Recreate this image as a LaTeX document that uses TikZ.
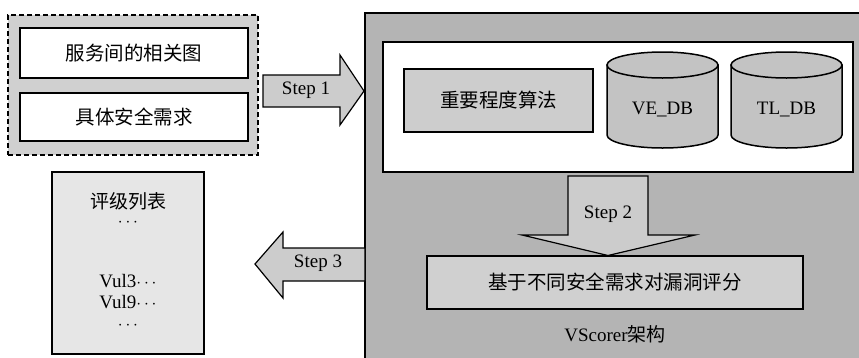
\documentclass[tikz,border=0pt]{standalone}
\usepackage{fontspec}
\setmainfont{Liberation Serif}
\newfontfamily\cjk{Noto Sans CJK SC}
\definecolor{archgray}{HTML}{B4B4B4}
\definecolor{groupgray}{HTML}{D0D0D0}
\definecolor{boxgray}{HTML}{CDCDCD}
\definecolor{dbgray}{HTML}{C3C3C3}
\definecolor{listgray}{HTML}{E6E6E6}
\definecolor{arrowgray}{HTML}{CCCCCC}
\begin{document}
\begin{tikzpicture}[x=1pt,y=-1pt,
  every node/.style={font=\fontsize{19}{22}\selectfont, inner sep=0pt, outer sep=0pt},
  box/.style={draw, line width=1.6pt, fill=#1},
  box/.default=white,
  blockarrow/.style={draw, line width=1.2pt, fill=arrowgray, line join=miter},
  dbshape/.style={draw, line width=1.5pt, fill=dbgray},
  txt/.style={font=\fontsize{19}{22}\selectfont},
  cn/.style={font=\fontsize{19.5}{22}\selectfont\cjk}]
\useasboundingbox (0,0) rectangle (859,357);

% inputs group
\node[box=groupgray, dash pattern=on 5pt off 3pt, line width=1.8pt,
      minimum width=250pt, minimum height=140pt] (grp) at (133,85) {};
\node[box, minimum width=228pt, minimum height=50pt, cn] (g1) at (134,53) {服务间的相关图};
\node[box, minimum width=228pt, minimum height=48pt, cn] (g2) at (134,117) {具体安全需求};

% VScorer architecture panel (runs off the right and bottom edges)
\fill[archgray] (365,13) rectangle (862,360);
\draw[line width=1.6pt] (862,13) -- (365,13) -- (365,360);
\node[box, minimum width=470pt, minimum height=130pt] (inner) at (618,107) {};
\node[box=boxgray, minimum width=189pt, minimum height=63pt, cn] (alg) at (498.5,100.5) {重要程度算法};

% databases
\foreach \cx/\nm/\lab in {662.5/vedb/VE\_DB, 786.5/tldb/TL\_DB}{
  \path[dbshape] (\cx-55.5,65) -- (\cx-55.5,135)
     arc[start angle=180, end angle=0, x radius=55.5, y radius=13]
     -- (\cx+55.5,65) -- cycle;
  \path[dbshape] (\cx,65) ellipse [x radius=55.5, y radius=13];
  \node[txt] (\nm) at (\cx,109) {\lab};
}

% scoring step
\node[box=groupgray, minimum width=376pt, minimum height=53pt, cn] (score) at (615,282.5) {基于不同安全需求对漏洞评分};
\node[txt] (archlabel) at (615,334) {VScorer{\cjk 架构}};

% rating list
\node[box=listgray, minimum width=152pt, minimum height=182pt] (list) at (128,263) {};
\node[font=\fontsize{19}{21}\selectfont, align=center, anchor=north] (ranks) at (128,193)
  {{\cjk 评级列表}\\[-3pt] $\cdots$\\[40pt] Vul3$\cdots$\\ Vul9$\cdots$\\ $\cdots$};

% Step 1: inputs into the panel
\draw[blockarrow] (263,75) -- (340,75) -- (340,55) -- (364,91) -- (340,125)
   -- (340,107) -- (263,107) -- cycle;
\node[txt] (s1) at (306,90) {Step 1};

% Step 2: inner box down to scoring
\draw[blockarrow] (568,176) -- (648,176) -- (648,235) -- (695,235) -- (608,255.5)
   -- (522,235) -- (568,235) -- cycle;
\node[txt] (s2) at (608,214) {Step 2};

% Step 3: panel out to rating list
\draw[blockarrow] (365,248) -- (283,248) -- (283,232) -- (255,264) -- (283,298)
   -- (283,281) -- (365,281) -- cycle;
\node[txt] (s3) at (318,263) {Step 3};
\end{tikzpicture}
\end{document}
